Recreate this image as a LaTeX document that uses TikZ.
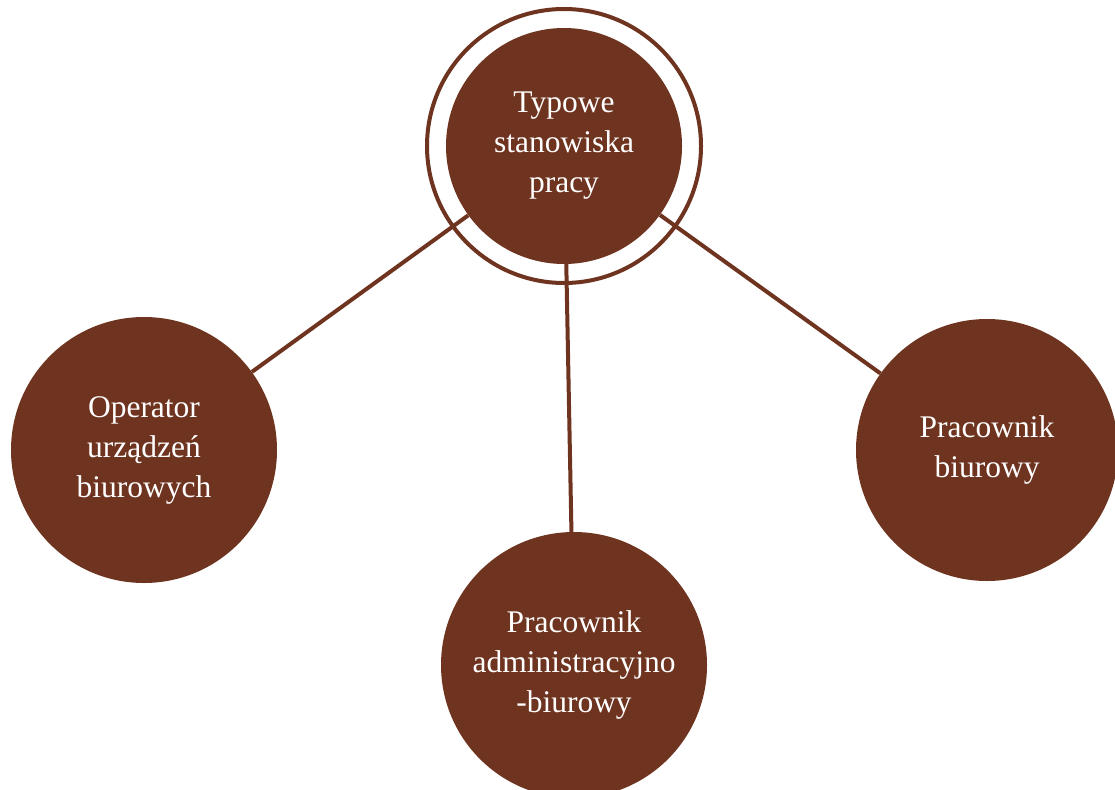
\documentclass[tikz,border=0pt]{standalone}
\usepackage{fontspec}
\setmainfont{Liberation Serif}
\definecolor{brown}{RGB}{111,52,32}
\begin{document}
\begin{tikzpicture}[x=1pt,y=-1pt,
  bubble/.style={circle,fill=brown,inner sep=0pt,text=white,align=center,
    font=\fontsize{31.5}{40}\selectfont},
  link/.style={draw=brown,line width=4pt}]
\useasboundingbox (0,0) rectangle (1115,789);
\node[circle,draw=brown,line width=4pt,minimum size=274pt,inner sep=0pt] (ring) at (564,146) {};
\node[bubble,minimum size=236pt] (c) at (564,146) {Typowe\\stanowiska\\pracy};
\node[bubble,minimum size=266pt] (l) at (144,450) {Operator\\urządzeń\\biurowych};
\node[bubble,minimum size=266pt] (b) at (574,665) {Pracownik\\administracyjno\\-biurowy};
\node[bubble,minimum size=262pt] (r) at (987,450) {Pracownik\\biurowy};
\draw[link] (c) -- (l);
\draw[link] (c) -- (b);
\draw[link] (c) -- (r);
\end{tikzpicture}
\end{document}
